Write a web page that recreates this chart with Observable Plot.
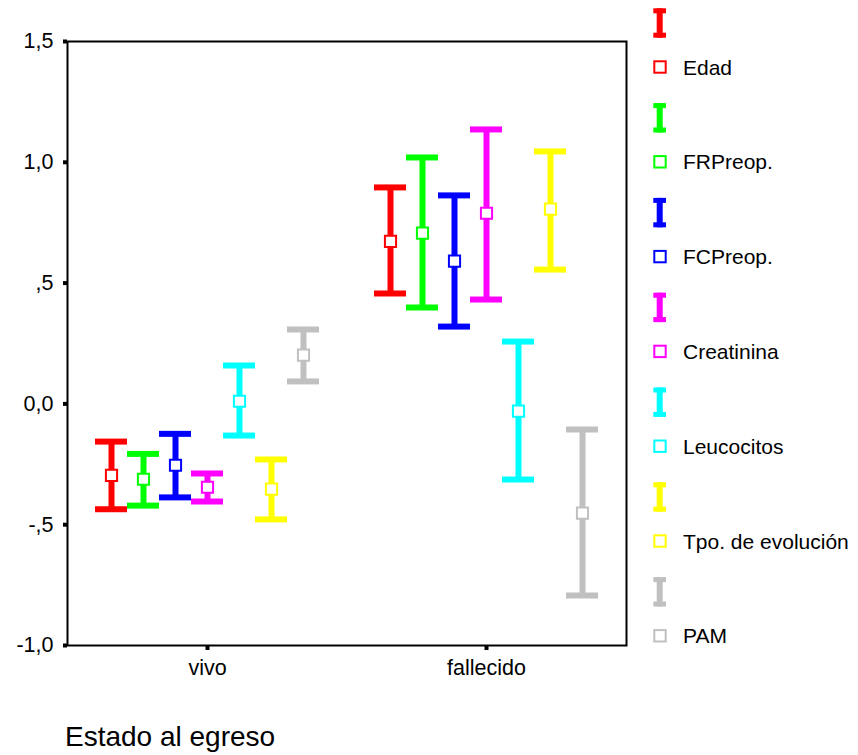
<!DOCTYPE html>
<html><head><meta charset="utf-8">
<script src="https://cdn.jsdelivr.net/npm/d3@7"></script>
<script src="https://cdn.jsdelivr.net/npm/@observablehq/plot@0.6"></script>
<style>
html,body{margin:0;padding:0;background:#fff;}
#wrap{position:relative;width:858px;height:755px;overflow:hidden;font-family:"Liberation Sans",Arial,sans-serif;background:#fff;}
#wrap svg{position:absolute;left:0;top:0;}
</style></head><body><div id="wrap"></div>
<script>
// ---- data ----
const groups = ["vivo", "fallecido"];
const series = ["Edad", "FRPreop.", "FCPreop.", "Creatinina", "Leucocitos", "Tpo. de evolución", "PAM"];
const colors = ["#ff0000", "#00ff00", "#0000ff", "#ff00ff", "#00ffff", "#ffff00", "#c0c0c0"];

const meanVivo = [-0.296, -0.312, -0.254, -0.345, 0.011, -0.353, 0.202];
const loVivo   = [-0.436, -0.421, -0.387, -0.404, -0.131, -0.478, 0.093];
const hiVivo   = [-0.156, -0.207, -0.124, -0.288, 0.159, -0.230, 0.308];

const meanFallecido = [0.673, 0.707, 0.591, 0.789, -0.030, 0.806, -0.452];
const loFallecido   = [0.457, 0.399, 0.320, 0.432, -0.313, 0.556, -0.793];
const hiFallecido   = [0.896, 1.020, 0.863, 1.136, 0.258, 1.045, -0.106];

const yTickValues = [-1, -0.5, 0, 0.5, 1, 1.5];
const yTickLabels = ["-1,0", "-,5", "0,0", ",5", "1,0", "1,5"];
const xTitle = "Estado al egreso";

// ---- table ----
const means = {vivo: meanVivo, fallecido: meanFallecido};
const los = {vivo: loVivo, fallecido: loFallecido};
const his = {vivo: hiVivo, fallecido: hiFallecido};
const rows = [];
groups.forEach(g => series.forEach((s, i) => rows.push({group: g, series: s, idx: i, mean: means[g][i], lo: los[g][i], hi: his[g][i]})));

const marks = [];
series.forEach((s, i) => {
  const d = rows.filter(r => r.idx === i);
  const dx = (i - 3) * 32;
  const c = colors[i];
  marks.push(Plot.ruleX(d, {x: "group", y1: "lo", y2: "hi", stroke: c, strokeWidth: 6, dx}));
  marks.push(Plot.ruleY(d, {y: "hi", x1: "group", x2: "group", stroke: c, strokeWidth: 6, insetLeft: -16, insetRight: -16, dx}));
  marks.push(Plot.ruleY(d, {y: "lo", x1: "group", x2: "group", stroke: c, strokeWidth: 6, insetLeft: -16, insetRight: -16, dx}));
  marks.push(Plot.dot(d, {x: "group", y: "mean", symbol: "square", r: 6.3, fill: "white", stroke: c, strokeWidth: 2, dx}));
});
marks.push(Plot.frame({stroke: "black", strokeWidth: 2}));
marks.push(Plot.axisY({ticks: yTickValues, tickFormat: v => yTickLabels[yTickValues.indexOf(v)], tickSize: 4, tickPadding: 10, strokeWidth: 4, label: null}));
marks.push(Plot.axisX({tickSize: 5, tickPadding: 9, strokeWidth: 4, label: null}));

const chart = Plot.plot({
  width: 858,
  height: 700,
  marginLeft: 67,
  marginRight: 232,
  marginTop: 41,
  marginBottom: 55,
  x: {type: "point", domain: groups, padding: 0.5},
  y: {domain: [-1, 1.5]},
  style: {fontFamily: "'Liberation Sans', Arial, sans-serif", fontSize: "21.5px", background: "white", color: "black"},
  marks
});
const wrap = document.getElementById("wrap");
wrap.appendChild(chart);

// ---- legend and axis title ----
const ov = d3.select(wrap).append("svg").attr("width", 858).attr("height", 755)
  .style("pointer-events", "none")
  .style("font-family", "'Liberation Sans', Arial, sans-serif");
series.forEach((s, i) => {
  const c = colors[i];
  const cy = 67 + i * 94.8;
  const iy = cy - 44;
  const g = ov.append("g");
  g.append("rect").attr("x", 656.7).attr("y", iy - 14.7).attr("width", 6).attr("height", 29.4).attr("fill", c);
  g.append("rect").attr("x", 653.3).attr("y", iy - 14.7).attr("width", 12.7).attr("height", 5).attr("fill", c);
  g.append("rect").attr("x", 653.3).attr("y", iy + 9.7).attr("width", 12.7).attr("height", 5).attr("fill", c);
  g.append("rect").attr("x", 654.3).attr("y", cy - 5.7).attr("width", 11.4).attr("height", 11.4)
    .attr("fill", "white").attr("stroke", c).attr("stroke-width", 2);
  g.append("text").attr("x", 683).attr("y", cy + 7.5).attr("font-size", 21).attr("fill", "black").text(s);
});
ov.append("text").attr("x", 65).attr("y", 746).attr("font-size", 28).attr("fill", "black").text(xTitle);
</script>
</body></html>
